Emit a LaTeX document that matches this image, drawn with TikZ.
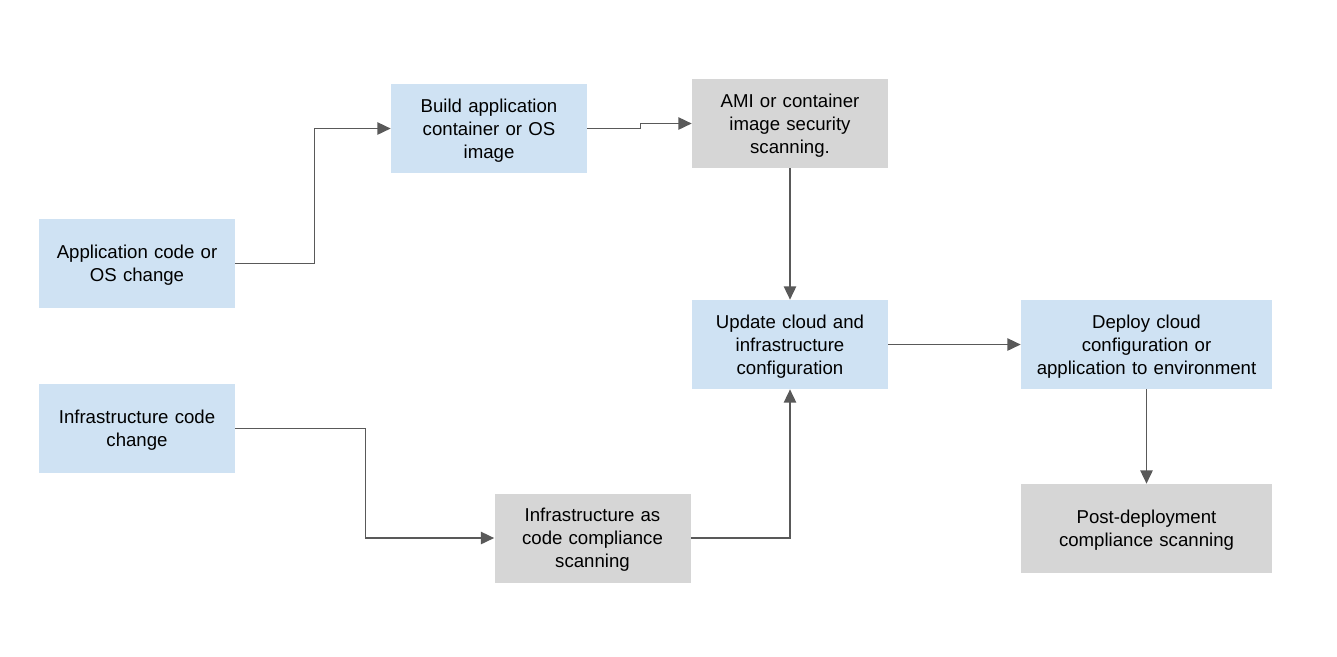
\documentclass[tikz,border=0pt]{standalone}
\usepackage{fontspec}
\setmainfont{Liberation Sans}
\usepackage{tikz}
\usetikzlibrary{positioning,arrows.meta}
\usepackage{xcolor}
\definecolor{stepblue}{HTML}{CFE2F3}
\definecolor{stepgray}{HTML}{D6D6D6}
\definecolor{flowline}{HTML}{595959}

\begin{document}
\begin{tikzpicture}[
  box/.style={minimum width=3.92cm,minimum height=1.78cm,text width=3.7cm,align=center,inner sep=0pt,
    font=\fontsize{10.6pt}{13.1pt}\selectfont,execute at end node={\endgraf\vspace*{-0.08cm}}},
  widebox/.style={box,minimum width=5.02cm,text width=4.8cm},
  blue/.style={fill=stepblue},
  gray/.style={fill=stepgray},
  flow/.style={flowline,line width=0.75pt,-{Triangle[length=7.5pt,width=7pt]}}]
\useasboundingbox (0,0) rectangle (26.74,-13.12);
\node[box,blue] (app) at (2.74,-5.27){Application code or\\OS change};
\node[box,blue] (infra) at (2.74,-8.57){Infrastructure code\\change};
\node[box,blue] (build) at (9.78,-2.57){Build application\\container or OS\\image};
\node[box,gray] (ami) at (15.80,-2.47){AMI or container\\image security\\scanning.};
\node[box,blue] (update) at (15.80,-6.89){Update cloud and\\infrastructure\\configuration};
\node[box,gray] (iac) at (11.85,-10.76){Infrastructure as\\code compliance\\scanning};
\node[widebox,blue] (deploy) at (22.93,-6.89){Deploy cloud\\configuration or\\application to environment};
\node[widebox,gray] (post) at (22.93,-10.57){Post-deployment\\compliance scanning};

\draw[flow] (app.east)--++(1.58,0)|-(build.west);
\draw[flow] (build.east)--++(1.06,0)|-(ami.west);
\draw[flow] (ami.south)--(update.north);
\draw[flow] (infra.east)--++(2.60,0)|-(iac.west);
\draw[flow] (iac.east)-|(update.south);
\draw[flow] (update.east)--(deploy.west);
\draw[flow] (deploy.south)--(post.north);

  \end{tikzpicture}
\end{document}
